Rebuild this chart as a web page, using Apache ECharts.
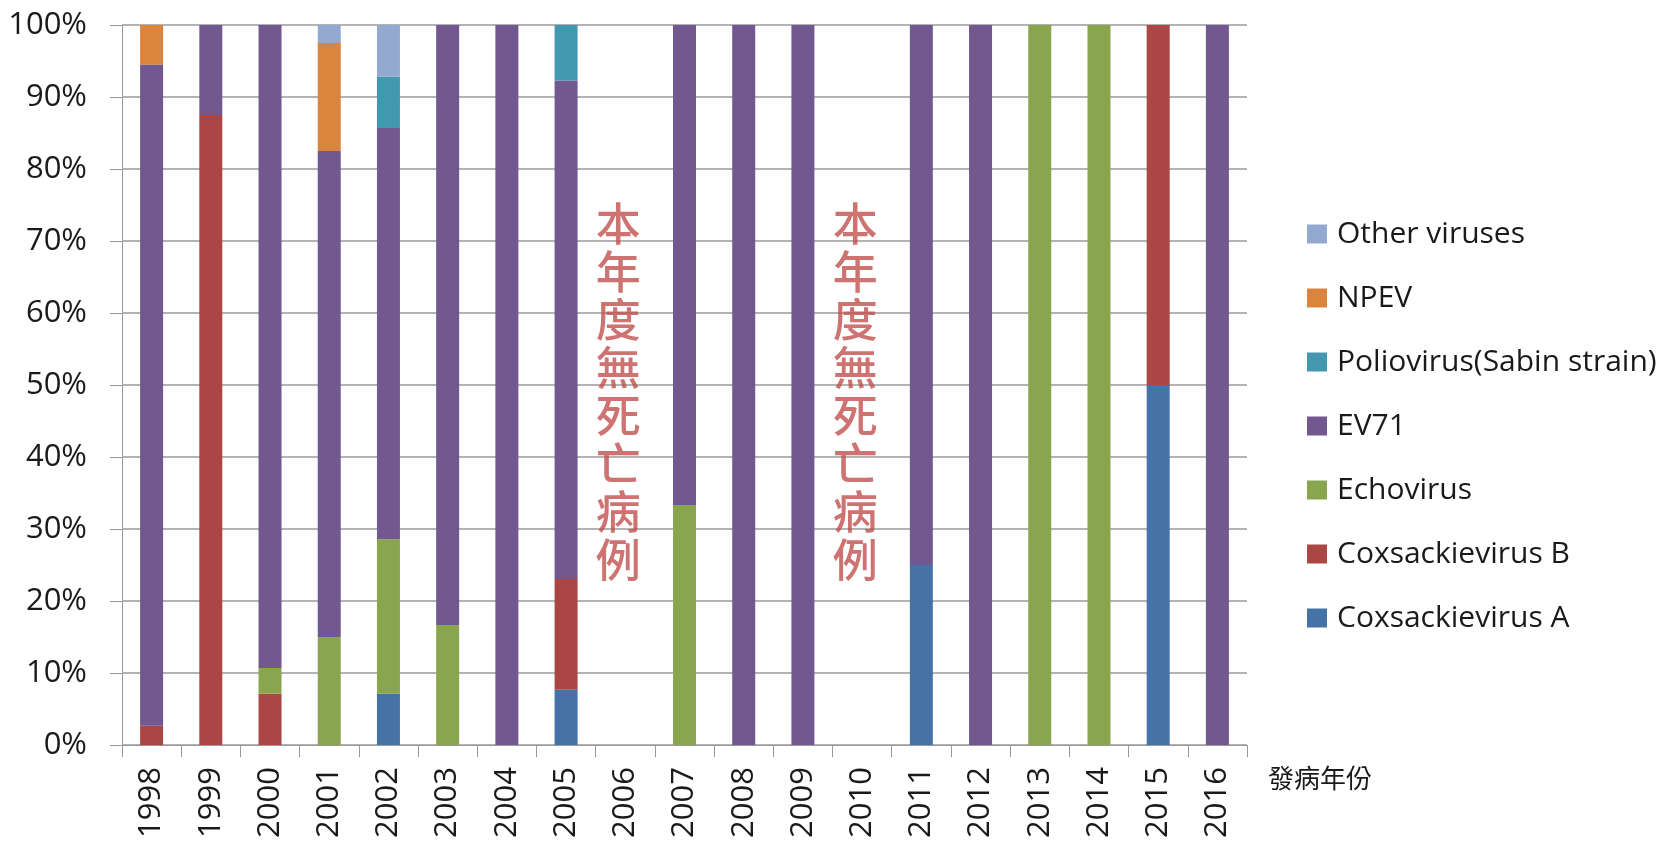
<!DOCTYPE html>
<html>
<head>
<meta charset="utf-8">
<script src="https://cdn.jsdelivr.net/npm/echarts@6/dist/echarts.min.js"></script>
<style>
html,body{margin:0;padding:0;background:#fff;}
#chart{width:1663px;height:841px;}
</style>
</head>
<body>
<div id="chart"></div>
<script>
var years = ['1998','1999','2000','2001','2002','2003','2004','2005','2006','2007','2008','2009','2010','2011','2012','2013','2014','2015','2016'];
var coxsackieA = [0, 0, 0, 0, 7.14, 0, 0, 7.69, 0, 0, 0, 0, 0, 25, 0, 0, 0, 50, 0];
var coxsackieB = [2.7, 87.5, 7.14, 0, 0, 0, 0, 15.38, 0, 0, 0, 0, 0, 0, 0, 0, 0, 50, 0];
var echovirus = [0, 0, 3.57, 15, 21.43, 16.67, 0, 0, 0, 33.33, 0, 0, 0, 0, 0, 100, 100, 0, 0];
var ev71 = [91.8, 12.5, 89.29, 67.5, 57.14, 83.33, 100, 69.23, 0, 66.67, 100, 100, 0, 75, 100, 0, 0, 0, 100];
var poliovirus = [0, 0, 0, 0, 7.14, 0, 0, 7.69, 0, 0, 0, 0, 0, 0, 0, 0, 0, 0, 0];
var npev = [5.5, 0, 0, 15, 0, 0, 0, 0, 0, 0, 0, 0, 0, 0, 0, 0, 0, 0, 0];
var otherViruses = [0, 0, 0, 2.5, 7.14, 0, 0, 0, 0, 0, 0, 0, 0, 0, 0, 0, 0, 0, 0];

var seriesNames = ['Coxsackievirus A','Coxsackievirus B','Echovirus','EV71','Poliovirus(Sabin strain)','NPEV','Other viruses'];
var seriesValues = [coxsackieA, coxsackieB, echovirus, ev71, poliovirus, npev, otherViruses];
var seriesColors = ['#4572A7','#AA4643','#89A54E','#71588F','#4198AF','#DB843D','#93A9CF'];

var yTicks = [0,10,20,30,40,50,60,70,80,90,100];
var annotationYears = ['2006','2010'];
var annotationLevel = [49, 49];
var annotationText = '本年度無死亡病例';
var xAxisName = '發病年份';

var latin = '"Open Sans", "Noto Sans", sans-serif';
var cjk = '"Noto Sans CJK TC", "Noto Sans CJK SC", sans-serif';

var series = seriesNames.map(function(n, i){
  return {
    name: n,
    type: 'bar',
    stack: 'total',
    barWidth: 23,
    itemStyle: {color: seriesColors[i]},
    data: seriesValues[i]
  };
});

series.push({
  name: 'annotation',
  type: 'scatter',
  symbolSize: 0,
  silent: true,
  data: annotationYears.map(function(y, i){ return [y, annotationLevel[i]]; }),
  label: {
    show: true,
    position: 'inside',
    offset: [-7, 0],
    formatter: function(){ return annotationText.split('').join('\n'); },
    fontFamily: cjk,
    fontSize: 45,
    fontWeight: 500,
    lineHeight: 48,
    color: '#C0504D'
  }
});

var chart = echarts.init(document.getElementById('chart'), null, {renderer: 'canvas'});
chart.setOption({
  animation: false,
  backgroundColor: '#ffffff',
  grid: {left: 122, right: 416, top: 25, bottom: 95, containLabel: false},
  legend: {
    orient: 'vertical',
    left: 1302,
    top: 214,
    itemWidth: 20,
    itemHeight: 19,
    itemGap: 34,
    icon: 'rect',
    data: seriesNames.slice().reverse(),
    textStyle: {fontFamily: latin, fontSize: 30, lineHeight: 30, color: '#1a1a1a', padding: [0,0,0,5]}
  },
  xAxis: {
    type: 'category',
    data: years,
    name: xAxisName,
    nameLocation: 'end',
    nameGap: 21,
    nameTextStyle: {fontFamily: cjk, fontSize: 26, color: '#1a1a1a', verticalAlign: 'top', align: 'left', padding: [20,0,0,0]},
    axisLine: {lineStyle: {color: '#9a9a9a', width: 1}},
    axisTick: {show: true, length: 12, lineStyle: {color: '#9a9a9a'}},
    axisLabel: {rotate: 90, interval: 0, margin: 22, fontFamily: latin, fontSize: 31, color: '#1a1a1a'}
  },
  yAxis: {
    type: 'value',
    min: yTicks[0],
    max: yTicks[yTicks.length-1],
    interval: yTicks[1]-yTicks[0],
    axisLine: {show: true, lineStyle: {color: '#9a9a9a', width: 1}},
    axisTick: {show: true, length: 12, lineStyle: {color: '#9a9a9a'}},
    splitLine: {show: true, lineStyle: {color: '#9a9a9a', width: 1.5}},
    axisLabel: {formatter: '{value}%', margin: 35, fontFamily: latin, fontSize: 31, color: '#1a1a1a'}
  },
  series: series
});
</script>
</body>
</html>
